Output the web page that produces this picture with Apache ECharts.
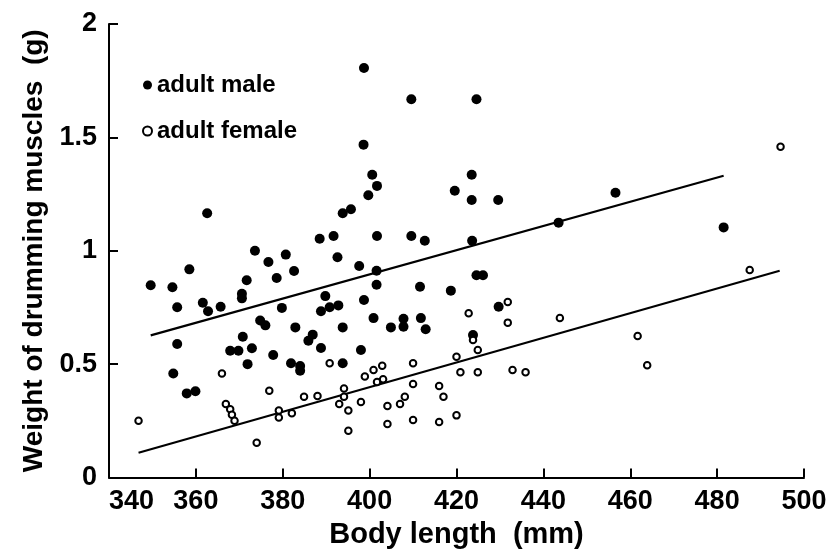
<!DOCTYPE html>
<html>
<head>
<meta charset="utf-8">
<script src="https://cdn.jsdelivr.net/npm/echarts@6/dist/echarts.min.js"></script>
<style>
  html, body { margin: 0; padding: 0; background: #fff; }
  #chart { width: 830px; height: 555px; }
</style>
</head>
<body>
<div id="chart"></div>
<script>
// body length (mm), drumming muscle weight (g)
var maleX = [349.6, 354.6, 355.7, 355.7, 354.8, 357.9, 359.9, 358.5, 361.6, 362.8,
  362.6, 365.7, 367.9, 369.8, 370.6, 370.6, 370.8, 371.7, 371.9, 372.9,
  373.6, 374.8, 376.0, 376.7, 377.8, 378.6, 379.8, 380.7, 381.9, 382.6,
  382.9, 384.0, 384.0, 385.9, 386.9, 388.5, 388.8, 388.8, 389.8, 390.8,
  391.7, 392.6, 392.8, 393.8, 395.7, 393.8, 393.8, 397.6, 398.0, 398.7,
  398.7, 398.6, 399.7, 400.6, 401.7, 401.7, 401.6, 401.6, 400.9, 404.9,
  407.8, 407.8, 409.6, 409.6, 411.6, 411.8, 412.7, 412.9, 418.7, 419.6,
  423.5, 423.5, 423.6, 424.6, 426.1, 423.8, 424.6, 429.6, 429.7, 443.5,
  456.6, 481.5];
var maleY = [0.848, 0.839, 0.751, 0.589, 0.459, 0.371, 0.380, 0.918, 0.771, 0.733,
  1.165, 0.753, 0.559, 0.559, 0.81, 0.79, 0.621, 0.870, 0.500, 0.570,
  1.0, 0.692, 0.671, 0.950, 0.540, 0.880, 0.748, 0.983, 0.504, 0.911,
  0.662, 0.492, 0.471, 0.603, 0.630, 1.053, 0.733, 0.571, 0.80, 0.751,
  1.065, 0.971, 0.759, 1.165, 1.183, 0.662, 0.504, 0.933, 0.562, 0.783,
  1.806, 1.468, 1.245, 1.335, 1.286, 1.065, 0.912, 0.850, 0.703, 0.662,
  0.700, 0.665, 1.668, 1.065, 0.841, 0.703, 1.044, 0.654, 0.824, 1.265,
  1.335, 1.224, 1.044, 0.892, 0.892, 0.628, 1.668, 1.224, 0.753, 1.124,
  1.256, 1.103];

var femaleX = [346.8, 366.0, 366.9, 367.9, 368.3, 368.9, 374.0, 376.9, 379.1, 379.1,
  382.1, 384.9, 388.0, 390.8, 393.0, 394.1, 394.1, 395.1, 395.1, 398.0,
  398.9, 400.9, 401.7, 402.9, 403.1, 404.1, 404.1, 407.0, 408.1, 410.0,
  410.0, 410.0, 416.0, 416.0, 417.0, 420.0, 420.0, 420.9, 422.8, 423.8,
  424.9, 424.9, 431.8, 431.8, 432.9, 435.9, 443.8, 461.7, 463.9, 487.5,
  494.6];
var femaleY = [0.250, 0.459, 0.324, 0.301, 0.277, 0.250, 0.153, 0.383, 0.295, 0.265,
  0.283, 0.356, 0.359, 0.504, 0.324, 0.393, 0.356, 0.295, 0.206, 0.333,
  0.445, 0.474, 0.421, 0.493, 0.433, 0.315, 0.236, 0.324, 0.356, 0.504,
  0.412, 0.254, 0.404, 0.245, 0.356, 0.533, 0.274, 0.464, 0.724, 0.606,
  0.562, 0.464, 0.774, 0.683, 0.474, 0.464, 0.703, 0.624, 0.495, 0.915,
  1.459];

// fitted lines, ends
var lineAX = [349.6, 481.5];
var lineAY = [0.627, 1.331];
var lineBX = [346.8, 494.4];
var lineBY = [0.109, 0.912];

var xTicks = [340, 500, 20];
var yTicks = [0, 2, 0.5];

function zip(xs, ys) {
  return xs.map(function (x, i) { return [x, ys[i]]; });
}

var font = "'Liberation Sans', Arial, Helvetica, sans-serif";

function fitLine(name, xs, ys, dist) {
  var d = zip(xs, ys);
  d[d.length - 1] = {
    value: d[d.length - 1],
    label: { show: true, position: 'right', distance: dist, formatter: name,
      color: '#000', fontSize: 25, fontWeight: 'bold', fontFamily: font }
  };
  return {
    name: name,
    type: 'line',
    data: d,
    symbol: 'none',
    silent: true,
    z: 1,
    lineStyle: { color: '#000', width: 2.2 }
  };
}

var chart = echarts.init(document.getElementById('chart'));
chart.setOption({
  animation: false,
  backgroundColor: '#fff',
  grid: { left: 109, right: 26, top: 24, bottom: 77.5 },
  legend: {
    orient: 'vertical',
    left: 137,
    top: 68,
    itemWidth: 9,
    itemHeight: 9,
    itemGap: 22,
    textStyle: { color: '#000', fontSize: 24, fontWeight: 'bold', fontFamily: font, lineHeight: 24 },
    data: [
      { name: 'adult male', icon: 'circle', itemStyle: { color: '#000', borderWidth: 0 } },
      { name: 'adult female', icon: 'circle', itemStyle: { color: '#fff', borderColor: '#000', borderWidth: 2 } }
    ]
  },
  xAxis: {
    type: 'value',
    min: xTicks[0], max: xTicks[1], interval: xTicks[2],
    name: 'Body length  (mm)',
    nameLocation: 'middle',
    nameGap: 37,
    nameTextStyle: { color: '#000', fontSize: 29, fontWeight: 'bold', fontFamily: font },
    axisLine: { lineStyle: { color: '#000', width: 2 } },
    axisTick: { inside: true, length: 9, lineStyle: { color: '#000', width: 2 } },
    axisLabel: { color: '#000', fontSize: 27, fontWeight: 'bold', fontFamily: font, margin: 11, alignMinLabel: 'left' },
    splitLine: { show: false }
  },
  yAxis: {
    type: 'value',
    min: yTicks[0], max: yTicks[1], interval: yTicks[2],
    name: 'Weight of drumming muscles  (g)',
    nameLocation: 'middle',
    nameGap: 54,
    nameTextStyle: { color: '#000', fontSize: 28, fontWeight: 'bold', fontFamily: font },
    axisLine: { lineStyle: { color: '#000', width: 2 } },
    axisTick: { inside: true, length: 9, lineStyle: { color: '#000', width: 2 } },
    axisLabel: { color: '#000', fontSize: 27, fontWeight: 'bold', fontFamily: font, margin: 12 },
    splitLine: { show: false }
  },
  series: [
    fitLine('(a)', lineAX, lineAY, 14),
    fitLine('(b)', lineBX, lineBY, 9),
    {
      name: 'adult male',
      type: 'scatter',
      data: zip(maleX, maleY),
      symbol: 'circle',
      symbolSize: 10,
      z: 3,
      itemStyle: { color: '#000', opacity: 1 }
    },
    {
      name: 'adult female',
      type: 'scatter',
      data: zip(femaleX, femaleY),
      symbol: 'circle',
      symbolSize: 6.5,
      z: 4,
      itemStyle: { color: '#fff', borderColor: '#000', borderWidth: 2, opacity: 1 }
    }
  ]
});
</script>
</body>
</html>
